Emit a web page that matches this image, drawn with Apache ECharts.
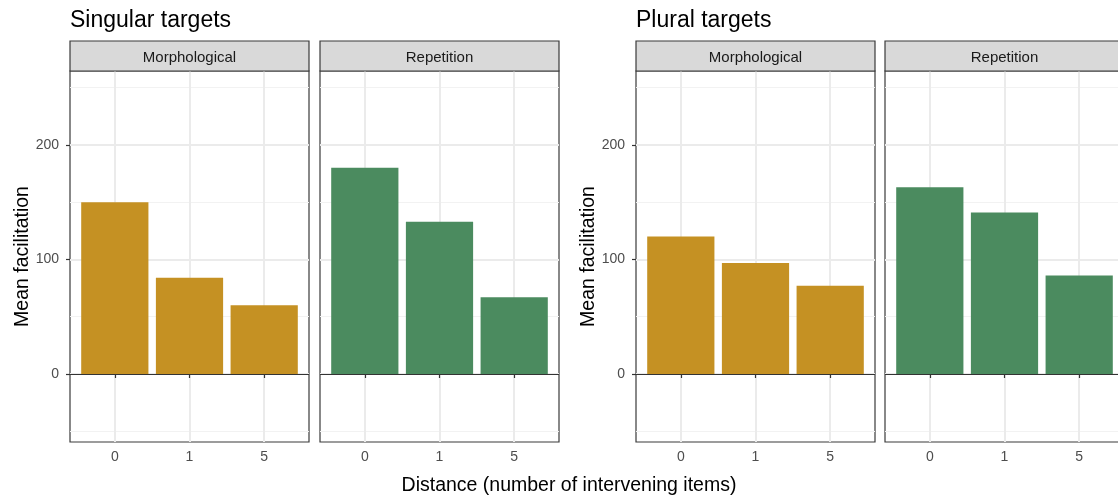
<!DOCTYPE html>
<html>
<head>
<meta charset="utf-8">
<script src="https://cdn.jsdelivr.net/npm/echarts@6/dist/echarts.min.js"></script>
<style>
html,body{margin:0;padding:0;background:#fff;}
#chart{width:1118px;height:496px;}
</style>
</head>
<body>
<div id="chart"></div>
<script>
// ---- data ----
const distances = ['0', '1', '5'];
const singularMorphological = [150, 84, 60];
const singularRepetition = [180, 133, 67];
const pluralMorphological = [120, 97, 77];
const pluralRepetition = [163, 141, 86];
const yTickValues = [0, 100, 200];
const yMinorValues = [-50, 50, 150, 250];
const groupTitles = ['Singular targets', 'Plural targets'];
const facetNames = ['Morphological', 'Repetition'];
const yTitle = 'Mean facilitation';
const xTitle = 'Distance (number of intervening items)';

// ---- layout / style ----
const FONT = "'Liberation Sans', Arial, sans-serif";
const GOLD = '#C59123';
const GREEN = '#4B8B5F';
const panelLefts = [70, 320, 636, 885];
const panelW = 239, panelTop = 71, panelH = 371, stripH = 30;
const Y_MIN = -59.4, Y_MAX = 264.6;
const xPositions = distances.map((d, k) => k + 1);

const panels = [
  {values: singularMorphological, color: GOLD, facet: facetNames[0], showY: true},
  {values: singularRepetition, color: GREEN, facet: facetNames[1], showY: false},
  {values: pluralMorphological, color: GOLD, facet: facetNames[0], showY: true},
  {values: pluralRepetition, color: GREEN, facet: facetNames[1], showY: false}
];

const grids = [], xAxes = [], yAxes = [], series = [], graphics = [];
panels.forEach((p, i) => {
  grids.push({
    left: panelLefts[i], top: panelTop, width: panelW, height: panelH,
    outerBoundsMode: 'none', containLabel: false,
    show: true, backgroundColor: '#fff', borderColor: '#3a3a3a', borderWidth: 1.2
  });
  xAxes.push({
    type: 'value', gridIndex: i, min: 0.4, max: 3.6, splitNumber: 3,
    axisLine: {show: false},
    axisTick: {show: true, length: 4, lineStyle: {color: '#333', width: 1.2}, customValues: xPositions},
    axisLabel: {
      show: true, margin: 8, color: '#4d4d4d', fontFamily: FONT, fontSize: 14,
      customValues: xPositions,
      formatter: v => (Number.isInteger(v) && v >= 1 && v <= distances.length) ? distances[v - 1] : ''
    },
    splitLine: {show: true, lineStyle: {color: '#ebebeb', width: 2}}
  });
  // major y axis (ticks, labels, major grid)
  yAxes.push({
    type: 'value', gridIndex: i, min: Y_MIN, max: Y_MAX,
    axisLine: {show: false},
    axisTick: {show: p.showY, length: 4, lineStyle: {color: '#333', width: 1.2}, customValues: yTickValues},
    axisLabel: {
      show: p.showY, margin: 11, color: '#4d4d4d', fontFamily: FONT, fontSize: 14,
      customValues: yTickValues,
      formatter: v => yTickValues.includes(v) ? String(v) : ''
    },
    splitLine: {show: true, lineStyle: {color: '#ebebeb', width: 2}}
  });
  // minor y grid
  yAxes.push({
    type: 'value', gridIndex: i, min: Y_MIN, max: Y_MAX,
    axisLine: {show: false},
    axisTick: {show: false, customValues: yMinorValues},
    axisLabel: {show: false, customValues: yMinorValues},
    splitLine: {show: true, lineStyle: {color: '#f2f2f2', width: 1}}
  });
  series.push({
    type: 'bar', xAxisIndex: i, yAxisIndex: 2 * i,
    data: p.values.map((v, k) => [xPositions[k], v]),
    barWidth: '90%',
    itemStyle: {color: p.color},
    silent: true,
    markLine: {
      silent: true, symbol: 'none', animation: false,
      label: {show: false},
      lineStyle: {color: '#333', width: 1.2, type: 'solid'},
      data: [{yAxis: 0}]
    }
  });
  // facet strip
  graphics.push({
    type: 'rect', shape: {x: panelLefts[i], y: panelTop - stripH, width: panelW, height: stripH},
    style: {fill: '#d9d9d9', stroke: '#3a3a3a', lineWidth: 1.2}, z: 10
  });
  graphics.push({
    type: 'text', x: panelLefts[i] + panelW / 2, y: panelTop - stripH / 2 + 2, z: 11,
    style: {text: p.facet, fill: '#1a1a1a', font: '15px ' + FONT, align: 'center', verticalAlign: 'middle'}
  });
});

// group titles
[0, 2].forEach((pi, g) => {
  graphics.push({
    type: 'text', x: panelLefts[pi], y: 21, z: 11,
    style: {text: groupTitles[g], fill: '#000', font: '23px ' + FONT, align: 'left', verticalAlign: 'middle'}
  });
  graphics.push({
    type: 'text', x: panelLefts[pi] - 47, y: panelTop + panelH / 2, rotation: Math.PI / 2, z: 11,
    style: {text: yTitle, fill: '#000', font: '19.5px ' + FONT, align: 'center', verticalAlign: 'middle'}
  });
});
graphics.push({
  type: 'text', x: 569, y: 486, z: 11,
  style: {text: xTitle, fill: '#000', font: '19.5px ' + FONT, align: 'center', verticalAlign: 'middle'}
});

const chart = echarts.init(document.getElementById('chart'), null, {renderer: 'canvas'});
chart.setOption({
  animation: false,
  backgroundColor: '#fff',
  grid: grids,
  xAxis: xAxes,
  yAxis: yAxes,
  series: series,
  graphic: graphics
});
</script>
</body>
</html>
